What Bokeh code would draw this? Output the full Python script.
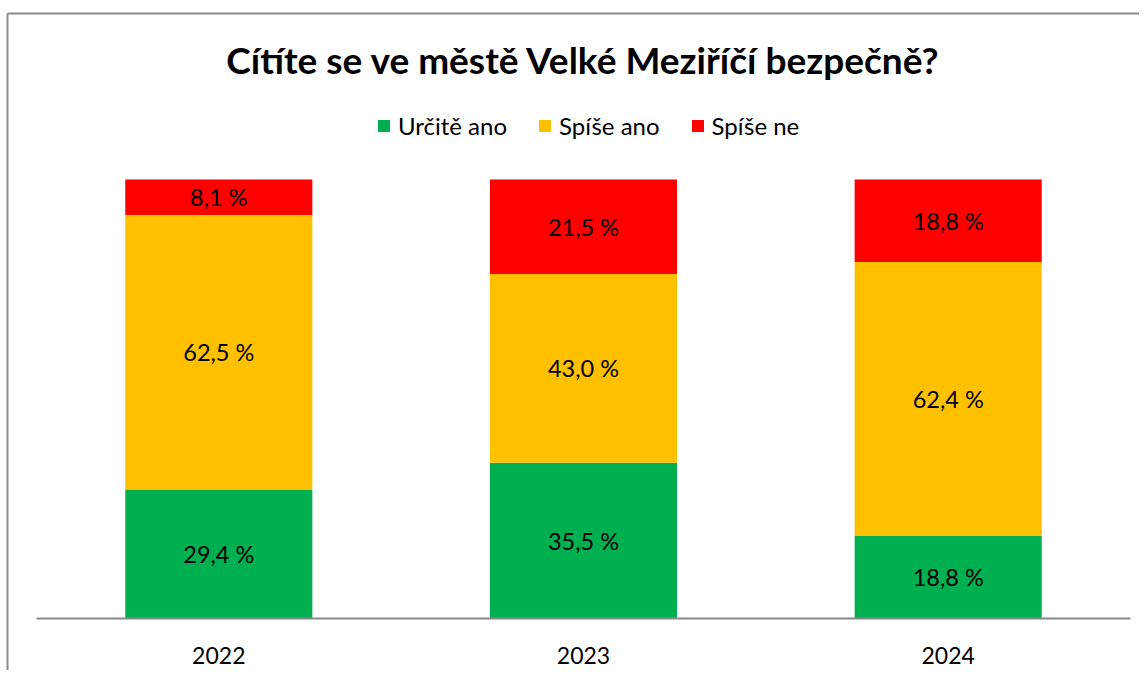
from bokeh.plotting import figure
from bokeh.models import ColumnDataSource, Range1d, LabelSet, Label, FixedTicker
from bokeh.embed import file_html
from bokeh.resources import INLINE
from bokeh.core.properties import value

years = ["2022", "2023", "2024"]
series = ["Určitě ano", "Spíše ano", "Spíše ne"]
urcite_ano = [29.4, 35.5, 18.8]
spise_ano = [62.5, 43.0, 62.4]
spise_ne = [8.1, 21.5, 18.8]
colors = ["#00B050", "#FFC000", "#FF0000"]
title_text = "Cítíte se ve městě Velké Meziříčí bezpečně?"

FONT = "Lato"

# layout (pixels): whole canvas is the frame
W, H = 1139, 670
PX_X = 364.7          # pixels per category
X0_PX = 218.3         # pixel position of first category centre
PX_Y = 4.39           # pixels per percent
Y0_PX = 618           # pixel position of 0 %
x_start = 0.5 - X0_PX / PX_X
x_end = x_start + W / PX_X
y_end = Y0_PX / PX_Y
y_start = -(H - Y0_PX) / PX_Y

xs = [i + 0.5 for i in range(len(years))]
data = {"x": xs, series[0]: urcite_ano, series[1]: spise_ano, series[2]: spise_ne}
src = ColumnDataSource(data)

p = figure(x_range=Range1d(x_start, x_end), y_range=Range1d(y_start, y_end),
           width=W, height=H, output_backend="svg", toolbar_location=None,
           min_border=0, title=None)
p.outline_line_color = None
p.grid.visible = False
p.yaxis.visible = False

# chart-area border (top and left edges visible, the rest runs off the page)
bl = x_start + 7 / PX_X
bt = (Y0_PX - 13) / PX_Y
p.segment(x0=[bl, bl], y0=[bt, bt], x1=[x_end + 1, bl], y1=[bt, y_start - 1],
          line_color="#8c8c8c", line_width=2)

p.vbar_stack(series, x="x", width=0.513, color=colors, source=src,
             line_color=None, legend_label=series)

# data labels
lx, ly, lt = [], [], []
for i in range(len(years)):
    base = 0.0
    for vals in (urcite_ano, spise_ano, spise_ne):
        v = vals[i]
        lx.append(xs[i])
        ly.append(base + v / 2)
        lt.append(f"{v:.1f}".replace(".", ",") + " %")
        base += v
lsrc = ColumnDataSource(dict(x=lx, y=ly, t=lt))
p.add_layout(LabelSet(x="x", y="y", text="t", source=lsrc, text_align="center",
                      text_baseline="middle", text_font=value(FONT),
                      text_font_size="23.5px", text_color="#000000"))

xa = p.xaxis[0]
xa.fixed_location = 0
xa.bounds = (0, len(years))
xa.ticker = FixedTicker(ticks=xs)
xa.major_label_overrides = {x: y for x, y in zip(xs, years)}
xa.axis_line_color = "#898989"
xa.axis_line_width = 2
xa.major_tick_line_color = None
xa.minor_tick_line_color = None
xa.major_label_standoff = 22
xa.major_label_text_font = FONT
xa.major_label_text_font_size = "23px"
xa.major_label_text_color = "#000000"

p.add_layout(Label(x=1.5, y=(Y0_PX - 59) / PX_Y, text=title_text, text_align="center",
                   text_baseline="middle", text_font=FONT,
                   text_font_size="37px", text_font_style="bold", text_color="#000000"))

lg = p.legend[0]
lg.orientation = "horizontal"
lg.location = (376, H - 140)
lg.padding = 0
lg.margin = 0
lg.spacing = 30
lg.glyph_width = 15
lg.glyph_height = 15
lg.label_standoff = 7
lg.label_text_font = FONT
lg.label_text_font_size = "24px"
lg.label_text_color = "#000000"
lg.border_line_color = None
lg.background_fill_alpha = 0

open("out.html", "w").write(file_html(p, INLINE))
